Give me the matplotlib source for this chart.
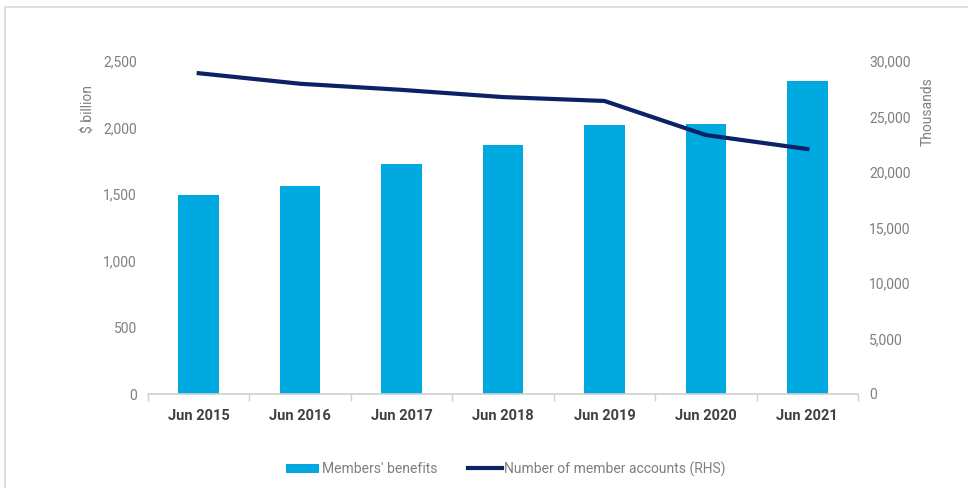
import matplotlib
matplotlib.use('Agg')
import matplotlib.pyplot as plt
from matplotlib.patches import Rectangle
from matplotlib.ticker import FuncFormatter
import numpy as np

plt.rcParams['font.family'] = ['Roboto', 'DejaVu Sans']

periods = ['Jun 2015', 'Jun 2016', 'Jun 2017', 'Jun 2018', 'Jun 2019', 'Jun 2020', 'Jun 2021']
benefits = [1494, 1562, 1727, 1869, 2020, 2027, 2350]
accounts = [28900, 27950, 27400, 26750, 26400, 23330, 22070]

BAR = '#00a9e0'
LINE = '#0b2265'
GREY = '#7f7f7f'

fig = plt.figure(figsize=(9.68, 4.88), dpi=100)
ax = fig.add_axes([148 / 968, 1 - 394 / 488, 710 / 968, 333 / 488])
ax2 = ax.twinx()

x = np.arange(len(periods))
ax.bar(x, benefits, width=0.4, color=BAR, label="Members' benefits", zorder=2)
ax2.plot(x, accounts, color=LINE, lw=3, label='Number of member accounts (RHS)', zorder=3)

ax.set_xlim(-0.5, len(periods) - 0.5)
ax.set_ylim(0, 2500)
ax2.set_ylim(0, 30000)
ax.set_yticks(range(0, 2501, 500))
ax2.set_yticks(range(0, 30001, 5000))
fmt = FuncFormatter(lambda v, p: '{:,.0f}'.format(v))
ax.yaxis.set_major_formatter(fmt)
ax2.yaxis.set_major_formatter(fmt)

ax.set_xticks(x)
ax.set_xticklabels(periods, fontsize=10.5, fontweight='bold', color='#404040')
ax.set_xticks(np.arange(-0.5, len(periods)), minor=True)
ax.tick_params(axis='x', which='major', length=0, pad=11)
ax.tick_params(axis='x', which='minor', length=5, color='#d0d0d0', width=1)

for a in (ax, ax2):
    for s in ('top', 'left', 'right', 'bottom'):
        a.spines[s].set_visible(False)
    a.tick_params(axis='y', length=0, labelsize=10, labelcolor=GREY, pad=8)
ax.spines['bottom'].set_visible(True)
ax.spines['bottom'].set_color('#d0d0d0')
ax.spines['bottom'].set_linewidth(1.2)

fig.text(88 / 968, 1 - 109 / 488, '$ billion', rotation=90, ha='center', va='center',
         fontsize=10, color=GREY)
fig.text(928 / 968, 1 - 112 / 488, 'Thousands', rotation=90, ha='center', va='center',
         fontsize=10, color=GREY)

h1, l1 = ax.get_legend_handles_labels()
h2, l2 = ax2.get_legend_handles_labels()
fig.legend(h1 + h2, l1 + l2, loc='center', bbox_to_anchor=(506 / 968, 1 - 469 / 488),
           ncol=2, frameon=False, fontsize=10, labelcolor=GREY, handlelength=2.4,
           handletextpad=0.2, columnspacing=2.2)

fig.patches.append(Rectangle((5 / 968, -0.1), 1.2, 1 - 7 / 488 + 0.1, transform=fig.transFigure,
                             fill=False, edgecolor='#d9d9d9', lw=1.2))

fig.savefig('out.png', dpi=100, facecolor='white')
